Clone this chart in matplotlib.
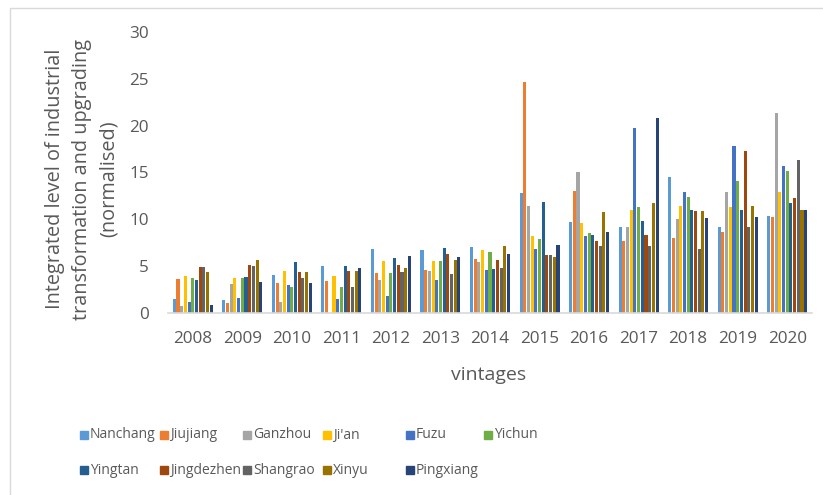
import matplotlib
matplotlib.use("Agg")
import matplotlib.pyplot as plt
import numpy as np
from matplotlib.patches import Rectangle

years = ["2008", "2009", "2010", "2011", "2012", "2013", "2014",
         "2015", "2016", "2017", "2018", "2019", "2020"]
cities = ["Nanchang", "Jiujiang", "Ganzhou", "Ji'an", "Fuzu", "Yichun",
          "Yingtan", "Jingdezhen", "Shangrao", "Xinyu", "Pingxiang"]

nanchang   = [1.5, 1.4, 4.1, 5.0, 6.8, 6.7, 7.0, 12.8, 9.7, 9.2, 14.5, 9.2, 10.4]
jiujiang   = [3.6, 1.1, 3.2, 3.4, 4.3, 4.6, 5.8, 24.7, 13.0, 7.7, 8.0, 8.7, 10.3]
ganzhou    = [0.7, 3.1, 1.2, 0.0, 3.5, 4.5, 5.4, 11.4, 15.1, 9.2, 10.0, 12.9, 21.4]
jian       = [4.0, 3.7, 4.5, 4.0, 5.5, 5.6, 6.7, 8.2, 9.6, 11.0, 11.4, 11.3, 12.9]
fuzu       = [1.2, 1.6, 3.0, 1.5, 1.8, 3.5, 4.6, 6.8, 8.2, 19.7, 12.9, 17.8, 15.7]
yichun     = [3.7, 3.7, 2.8, 2.8, 4.3, 5.5, 6.5, 7.9, 8.5, 11.3, 12.4, 14.1, 15.2]
yingtan    = [3.5, 3.8, 5.4, 5.0, 5.9, 6.9, 4.7, 11.9, 8.3, 9.8, 11.0, 11.0, 11.7]
jingdezhen = [4.9, 5.1, 4.4, 4.5, 5.1, 6.3, 5.7, 6.2, 7.7, 8.3, 10.9, 17.3, 12.3]
shangrao   = [4.9, 5.0, 3.7, 2.8, 4.4, 4.2, 4.8, 6.2, 7.1, 7.2, 6.8, 9.2, 16.3]
xinyu      = [4.4, 5.7, 4.4, 4.5, 4.8, 5.7, 7.1, 6.0, 10.8, 11.7, 10.9, 11.4, 11.0]
pingxiang  = [0.9, 3.3, 3.2, 4.8, 6.1, 6.0, 6.3, 7.3, 8.6, 20.8, 10.1, 10.3, 11.0]

series = [nanchang, jiujiang, ganzhou, jian, fuzu, yichun,
          yingtan, jingdezhen, shangrao, xinyu, pingxiang]
colors = ["#5B9BD5", "#ED7D31", "#A5A5A5", "#FFC000", "#4472C4", "#70AD47",
          "#255E91", "#9E480E", "#636363", "#997300", "#264478"]

plt.rcParams['font.family'] = ['Open Sans', 'DejaVu Sans']
txt = "#595959"

W, H = 823, 495
fig = plt.figure(figsize=(W / 100, H / 100), dpi=100)
ax = fig.add_axes([168 / W, (H - 313) / H, (812 - 168) / W, (313 - 32) / H])

x = np.arange(len(years))
pitch = 0.0745
width = 0.062
n = len(series)
for i, (vals, c) in enumerate(zip(series, colors)):
    ax.bar(x + (i - (n - 1) / 2) * pitch, vals, width=width, color=c,
           label=cities[i], zorder=2)

ax.set_xlim(-0.5, len(years) - 0.5)
ax.set_ylim(0, 30)
ax.set_yticks(range(0, 31, 5))
ax.set_xticks(x)
ax.set_xticklabels(years)
ax.tick_params(axis='both', length=0, labelsize=12.3, colors=txt)
ax.tick_params(axis='y', pad=14)
ax.tick_params(axis='x', pad=13)
for s in ["top", "right", "left"]:
    ax.spines[s].set_visible(False)
ax.spines["bottom"].set_color("#D9D9D9")
ax.spines["bottom"].set_linewidth(1.2)

fig.text(489 / W, 1 - 380 / H, "vintages", ha='center', va='baseline',
         fontsize=14, color=txt)
fig.text(82 / W, 1 - 179 / H,
         "Integrated level of industrial\ntransformation and upgrading\n(normalised)",
         rotation=90, ha='center', va='center', fontsize=14.3, color=txt,
         multialignment='center', linespacing=1.47)

# manual legend (two rows, Excel-like placement)
leg_x = [84, 164, 247, 327, 410, 488]
leg_y = [435, 470]
for i, (name, c) in enumerate(zip(cities, colors)):
    row, col = divmod(i, 6)
    lx, ly = leg_x[col], leg_y[row]
    fig.patches.append(Rectangle(((lx - 4) / W, 1 - (ly + 4) / H), 8 / W, 8 / H,
                                 transform=fig.transFigure, color=c))
    fig.text((lx + 6) / W, 1 - ly / H, name, ha='left', va='center',
             fontsize=10, color=txt)

# chart border
fig.patches.append(Rectangle((10 / W, -0.01), 1.0, 1 - 8 / H + 0.01,
                             transform=fig.transFigure, fill=False,
                             edgecolor="#D9D9D9", linewidth=1))

fig.savefig("out.png", dpi=100)
